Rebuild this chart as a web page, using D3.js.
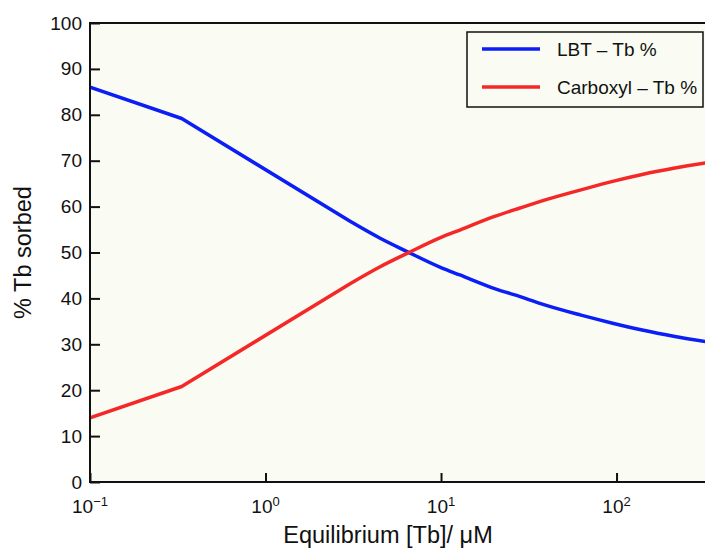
<!DOCTYPE html>
<meta charset="utf-8">
<head>
<title>% Tb sorbed vs equilibrium Tb</title>
<script type="text/javascript" src="https://cdn.jsdelivr.net/npm/d3@7"></script>
<style>
    body { margin: 0; background: #fff; }
    text { font-family: "Liberation Sans", Arial, sans-serif; fill: #111; }
</style>
</head>
<body>
<div id="chart"></div>
<script>
    // data
    var concentration = [0.1, 0.333, 3, 4.5, 6.4, 10, 12.8, 20, 28.2, 42, 62, 95, 140, 215, 332];
    var lbtPct      = [86.0, 79.2, 56.9, 53.1, 50.2, 46.7, 45.1, 42.2, 40.4, 38.2, 36.4, 34.6, 33.1, 31.7, 30.5];
    var carboxylPct = [14.0, 20.8, 43.1, 46.9, 49.8, 53.3, 54.9, 57.8, 59.7, 61.8, 63.6, 65.5, 67.0, 68.4, 69.6];
    var seriesNames = ["LBT \u2013 Tb %", "Carboxyl \u2013 Tb %"];
    var seriesColors = ["#0a1ef5", "#f52828"];
    var yTicks = d3.range(0, 101, 10);
    var xTicks = [0.1, 1, 10, 100];
    var xTickExp = ["\u22121", "0", "1", "2"];

    var W = 705, H = 548;
    var margin = {top: 23, right: -3, bottom: 66, left: 90};
    var width = W - margin.left - margin.right;
    var height = H - margin.top - margin.bottom;

    var svg = d3.select("#chart").append("svg")
        .attr("width", W).attr("height", H);

    var x = d3.scaleLog().domain([0.1, 332]).range([0, width]);
    var y = d3.scaleLinear().domain([0, 100]).range([height, 0]);

    var g = svg.append("g").attr("transform", "translate(" + margin.left + "," + margin.top + ")");

    g.append("rect").attr("width", width).attr("height", height).attr("fill", "#fafcf3");

    svg.append("clipPath").attr("id", "clip").append("rect")
        .attr("width", width).attr("height", height);

    // y axis, ticks inward
    var yAxis = g.append("g").call(d3.axisLeft(y).tickValues(yTicks).tickSize(-10).tickPadding(8));
    yAxis.select(".domain").remove();
    yAxis.selectAll("line").attr("stroke", "#111").attr("stroke-width", 2);
    yAxis.selectAll("text").style("font-size", "19px").attr("fill", "#111");

    // x axis, ticks inward, superscript labels
    var xAxis = g.append("g").attr("transform", "translate(0," + height + ")")
        .call(d3.axisBottom(x).tickValues(xTicks).tickSize(-9).tickFormat(""));
    xAxis.select(".domain").remove();
    xAxis.selectAll("line").attr("stroke", "#111").attr("stroke-width", 2);
    xTicks.forEach(function (t, i) {
        var lab = g.append("text")
            .attr("x", x(t)).attr("y", height + 31)
            .attr("text-anchor", "middle").style("font-size", "19px");
        lab.append("tspan").text("10");
        lab.append("tspan").attr("dy", -7).style("font-size", "13px").text(xTickExp[i]);
    });

    // first three points are joined straight, the rest is a smooth curve
    var straight = d3.line()
        .x(function (d) { return x(d[0]); })
        .y(function (d) { return y(d[1]); });
    var smooth = d3.line()
        .x(function (d) { return x(d[0]); })
        .y(function (d) { return y(d[1]); })
        .curve(d3.curveMonotoneX);

    [lbtPct, carboxylPct].forEach(function (vals, i) {
        var pts = concentration.map(function (c, j) { return [c, vals[j]]; });
        var d = straight(pts.slice(0, 3)) + smooth(pts.slice(2)).replace(/^M[^C]*/, "");
        g.append("path")
            .attr("clip-path", "url(#clip)")
            .attr("d", d)
            .attr("fill", "none")
            .attr("stroke", seriesColors[i])
            .attr("stroke-width", 3.5)
            .attr("stroke-linejoin", "round");
    });

    // frame: left, bottom, top
    g.append("path")
        .attr("d", "M" + width + ",0H0V" + height + "H" + width)
        .attr("fill", "none").attr("stroke", "#111").attr("stroke-width", 2);

    // legend
    var leg = svg.append("g").attr("transform", "translate(467,32)");
    leg.append("rect").attr("width", 236).attr("height", 75)
        .attr("fill", "#fafcf3").attr("stroke", "#111").attr("stroke-width", 1.5);
    seriesNames.forEach(function (name, i) {
        leg.append("line").attr("x1", 15).attr("x2", 73)
            .attr("y1", 17 + i * 38).attr("y2", 17 + i * 38)
            .attr("stroke", seriesColors[i]).attr("stroke-width", 3.5);
        leg.append("text").attr("x", 90).attr("y", 24 + i * 38)
            .style("font-size", "19px").text(name);
    });

    // axis titles
    svg.append("text")
        .attr("x", 388).attr("y", 543)
        .attr("text-anchor", "middle").style("font-size", "23.5px")
        .text("Equilibrium [Tb]/ \u03bcM");
    svg.append("text")
        .attr("transform", "translate(31," + (margin.top + height / 2) + ") rotate(-90)")
        .attr("text-anchor", "middle").style("font-size", "23.5px")
        .text("% Tb sorbed");
</script>
</body>
</html>
